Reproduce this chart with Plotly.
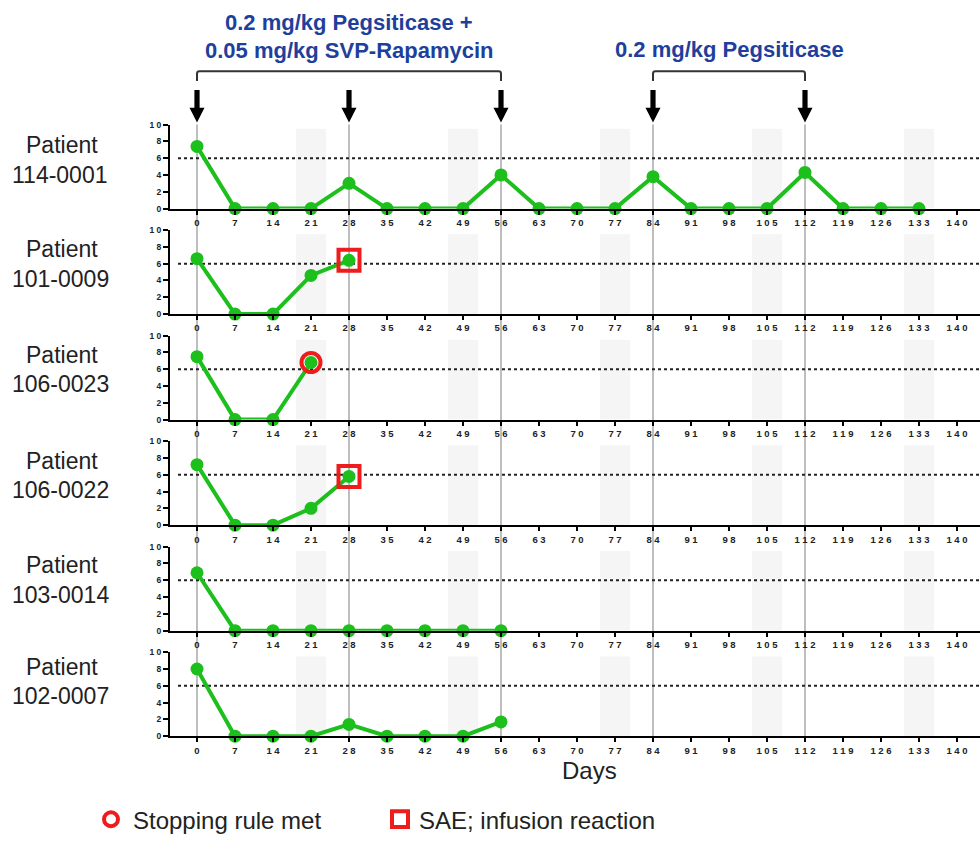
import plotly.graph_objects as go

# ---------------- data ----------------
tick_days = list(range(0, 141, 7))
tick_labels = [" ".join(str(d)) for d in tick_days]
y_ticks = [0, 2, 4, 6, 8, 10]
y_tick_labels = [" ".join(str(v)) for v in y_ticks]

patients = ["114-0001", "101-0009", "106-0023", "106-0022", "103-0014", "102-0007"]

days_114_0001 = [0, 7, 14, 21, 28, 35, 42, 49, 56, 63, 70, 77, 84, 91, 98, 105, 112, 119, 126, 133]
vals_114_0001 = [7.4, 0, 0, 0, 3.0, 0, 0, 0, 4.0, 0, 0, 0, 3.8, 0, 0, 0, 4.3, 0, 0, 0]
days_101_0009 = [0, 7, 14, 21, 28]
vals_101_0009 = [6.6, 0, 0, 4.6, 6.4]
days_106_0023 = [0, 7, 14, 21]
vals_106_0023 = [7.5, 0, 0, 6.8]
days_106_0022 = [0, 7, 14, 21, 28]
vals_106_0022 = [7.2, 0, 0, 2.0, 5.8]
days_103_0014 = [0, 7, 14, 21, 28, 35, 42, 49, 56]
vals_103_0014 = [6.9, 0, 0, 0, 0, 0, 0, 0, 0]
days_102_0007 = [0, 7, 14, 21, 28, 35, 42, 49, 56]
vals_102_0007 = [8.0, 0, 0, 0, 1.4, 0, 0, 0, 1.7]

series_days = [days_114_0001, days_101_0009, days_106_0023, days_106_0022, days_103_0014, days_102_0007]
series_vals = [vals_114_0001, vals_101_0009, vals_106_0023, vals_106_0022, vals_103_0014, vals_102_0007]

# events: (panel index, day, value)
stop_rule_events = [(2, 21, 6.8)]
sae_events = [(1, 28, 6.4), (3, 28, 5.8)]

dose_days = [0, 28, 56, 84, 112]
band_days = [21, 49, 77, 105, 133]
threshold = 6

# ---------------- geometry helpers ----------------
W, H = 980, 842
def fx(px):
    return px / W
def fy(py):
    return 1 - py / H

PX_PER_DAY = (957 - 197) / 140.0
X0_DAY = (170 - 197) / PX_PER_DAY
X1_DAY = (980 - 197) / PX_PER_DAY
def dpx(px):
    return px / PX_PER_DAY

panel_tops = [121 + 106.8 * i for i in range(6)]
panel_h = 85
label_rows = [(142, 172), (247, 277), (354, 384), (461, 491), (567, 597), (670, 699)]

GREEN = "#1cbf1c"
RED = "#ee1c1c"
BLUE = "#1f3f9c"
TXT = "#222222"

fig = go.Figure()
layout = dict(width=W, height=H, margin=dict(l=0, r=0, t=0, b=0),
              paper_bgcolor="white", plot_bgcolor="white", showlegend=False)

shapes = []
annotations = []

tickfont = dict(family="Liberation Sans", size=9.5, color=TXT, weight="bold")

for i in range(6):
    n = i + 1
    xa = "x" if n == 1 else f"x{n}"
    ya = "y" if n == 1 else f"y{n}"
    xk = "xaxis" if n == 1 else f"xaxis{n}"
    yk = "yaxis" if n == 1 else f"yaxis{n}"
    top = panel_tops[i]
    bot = top + panel_h
    layout[xk] = dict(domain=[fx(170), 1], range=[X0_DAY, X1_DAY], anchor=ya,
                      tickvals=tick_days, ticktext=tick_labels, ticks="outside",
                      ticklen=4, tickwidth=2, tickcolor="black", showline=True,
                      linecolor="black", linewidth=2, showgrid=False, zeroline=False,
                      tickfont=tickfont, fixedrange=True)
    layout[yk] = dict(domain=[fy(bot), fy(top)], range=[0, 10], anchor=xa,
                      tickvals=y_ticks, ticktext=y_tick_labels, ticks="outside",
                      ticklen=5, tickwidth=1.5,
                      tickcolor="black", showline=True, linecolor="black", linewidth=2,
                      showgrid=False, zeroline=False,
                      tickfont=dict(family="Liberation Sans", size=8.5, color=TXT, weight="bold"),
                      fixedrange=True)
    for c in band_days:
        shapes.append(dict(type="rect", xref=xa, yref=ya, x0=c - 2.75, x1=c + 2.75,
                           y0=0, y1=9.5, fillcolor="#f5f5f5", line=dict(width=0),
                           layer="below"))
    shapes.append(dict(type="line", xref=xa, yref=ya, x0=-3.5, x1=X1_DAY,
                       y0=threshold, y1=threshold,
                       line=dict(color="#222", width=2, dash="dot"), layer="below"))
    fig.add_trace(go.Scatter(x=series_days[i], y=series_vals[i], mode="lines+markers",
                             xaxis=xa, yaxis=ya, cliponaxis=False,
                             line=dict(color=GREEN, width=4),
                             marker=dict(color=GREEN, size=13)))
    pfont = dict(family="Liberation Sans", size=23, color=TXT)
    annotations.append(dict(text="Patient", xref="paper", yref="paper", x=fx(62),
                            y=fy(label_rows[i][0]), xanchor="center", yanchor="middle",
                            showarrow=False, font=pfont))
    annotations.append(dict(text=patients[i], xref="paper", yref="paper", x=fx(60),
                            y=fy(label_rows[i][1]), xanchor="center", yanchor="middle",
                            showarrow=False, font=pfont))

for d in dose_days:
    shapes.append(dict(type="line", xref="x", yref="paper", x0=d, x1=d,
                       y0=fy(740), y1=fy(121), line=dict(color="#a8a8a8", width=1.5),
                       layer="below"))

for (pi, d, v) in stop_rule_events:
    n = pi + 1
    fig.add_trace(go.Scatter(x=[d], y=[v], mode="markers", cliponaxis=False,
                             xaxis="x" if n == 1 else f"x{n}", yaxis="y" if n == 1 else f"y{n}",
                             marker=dict(symbol="circle-open", size=19, color=RED,
                                         line=dict(width=4, color=RED))))
for (pi, d, v) in sae_events:
    n = pi + 1
    fig.add_trace(go.Scatter(x=[d], y=[v], mode="markers", cliponaxis=False,
                             xaxis="x" if n == 1 else f"x{n}", yaxis="y" if n == 1 else f"y{n}",
                             marker=dict(symbol="square-open", size=21, color=RED,
                                         line=dict(width=4, color=RED))))

for d in dose_days:
    shapes.append(dict(type="rect", xref="x", yref="paper", x0=d - dpx(2.6), x1=d + dpx(2.6),
                       y0=fy(106), y1=fy(86), fillcolor="black", line=dict(width=0)))
    path = (f"M {d - dpx(7.5)},{fy(104)} L {d + dpx(7.5)},{fy(104)} "
            f"L {d},{fy(119)} Z")
    shapes.append(dict(type="path", xref="x", yref="paper", path=path,
                       fillcolor="black", line=dict(width=0)))

def bracket(a, b):
    r = dpx(2.5)
    return (f"M {a},{fy(77)} L {a},{fy(69.5)} Q {a},{fy(67)} {a + r},{fy(67)} "
            f"L {b - r},{fy(67)} Q {b},{fy(67)} {b},{fy(69.5)} L {b},{fy(77)}")
shapes.append(dict(type="path", xref="x", yref="paper", path=bracket(0, 56),
                   line=dict(color="#333", width=2)))
shapes.append(dict(type="path", xref="x", yref="paper", path=bracket(84, 112),
                   line=dict(color="#333", width=2)))

hfont = dict(family="Liberation Sans", size=22, color=BLUE, weight="bold")
annotations.append(dict(text="0.2 mg/kg Pegsiticase +", xref="x", yref="paper", x=28,
                        y=fy(18), xanchor="center", yanchor="middle", showarrow=False, font=hfont))
annotations.append(dict(text="0.05 mg/kg SVP-Rapamycin", xref="x", yref="paper", x=28,
                        y=fy(46), xanchor="center", yanchor="middle", showarrow=False, font=hfont))
annotations.append(dict(text="0.2 mg/kg Pegsiticase", xref="x", yref="paper", x=98,
                        y=fy(45), xanchor="center", yanchor="middle", showarrow=False, font=hfont))

annotations.append(dict(text="Days", xref="paper", yref="paper", x=fx(589), y=fy(775),
                        xanchor="center", yanchor="middle", showarrow=False,
                        font=dict(family="Liberation Sans", size=24, color=TXT)))

shapes.append(dict(type="circle", xref="paper", yref="paper",
                   x0=fx(104), x1=fx(118), y0=fy(831), y1=fy(817),
                   line=dict(color=RED, width=4)))
shapes.append(dict(type="rect", xref="paper", yref="paper",
                   x0=fx(392), x1=fx(408), y0=fy(832), y1=fy(816),
                   line=dict(color=RED, width=4)))
lfont = dict(family="Liberation Sans", size=24, color=TXT)
annotations.append(dict(text="Stopping rule met", xref="paper", yref="paper", x=fx(131),
                        y=fy(825), xanchor="left", yanchor="middle", showarrow=False, font=lfont))
annotations.append(dict(text="SAE; infusion reaction", xref="paper", yref="paper", x=fx(417),
                        y=fy(825), xanchor="left", yanchor="middle", showarrow=False, font=lfont))

layout["shapes"] = shapes
layout["annotations"] = annotations
fig.update_layout(**layout)
fig.write_html("out.html", config={"displayModeBar": False},
               post_script="document.body.style.margin='0';document.body.style.overflow='hidden';")
